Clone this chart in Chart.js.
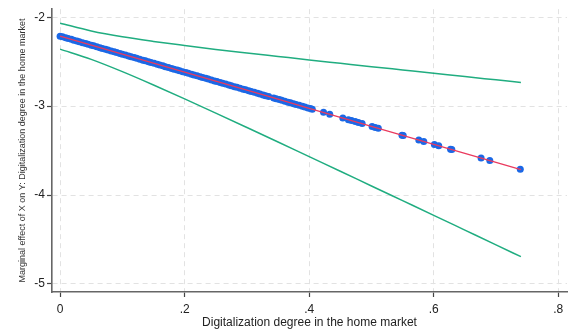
<!DOCTYPE html>
<html>
<head>
<meta charset="utf-8">
<script src="https://cdn.jsdelivr.net/npm/chart.js@4/dist/chart.umd.min.js"></script>
<style>
  html, body { margin: 0; padding: 0; background: #fff; }
  #wrap { width: 572px; height: 332px; position: relative; }
</style>
</head>
<body>
<div id="wrap"><canvas id="chart"></canvas></div>
<script>
// Predicted marginal effect and 95% CI
const gridX  = [0, 0.05, 0.1, 0.15, 0.2, 0.25, 0.3, 0.35, 0.4, 0.45, 0.5, 0.55, 0.6, 0.65, 0.7, 0.74];
const effect = [-2.213, -2.314, -2.416, -2.517, -2.618, -2.720, -2.821, -2.922, -3.024, -3.125, -3.227, -3.328, -3.429, -3.531, -3.632, -3.713];
const upperCI = [-2.067, -2.154, -2.220, -2.272, -2.318, -2.362, -2.402, -2.441, -2.480, -2.518, -2.556, -2.593, -2.630, -2.668, -2.704, -2.733];
const lowerCI = [-2.359, -2.474, -2.612, -2.762, -2.918, -3.078, -3.240, -3.403, -3.568, -3.732, -3.898, -4.063, -4.228, -4.394, -4.560, -4.693];

// Observed points (blue dots on the line)
const obsX = [0, 0.004, 0.009, 0.013, 0.018, 0.022, 0.027, 0.031, 0.036, 0.041, 0.045, 0.05, 0.054, 0.059, 0.064, 0.068,
  0.073, 0.077, 0.082, 0.087, 0.091, 0.096, 0.1, 0.105, 0.11, 0.114, 0.119, 0.123, 0.128, 0.133, 0.137, 0.142, 0.146,
  0.151, 0.156, 0.16, 0.165, 0.169, 0.174, 0.179, 0.183, 0.188, 0.192, 0.197, 0.202, 0.206, 0.211, 0.215, 0.22, 0.225,
  0.229, 0.234, 0.238, 0.243, 0.248, 0.252, 0.257, 0.261, 0.266, 0.271, 0.275, 0.28, 0.284, 0.289, 0.294, 0.298, 0.303,
  0.307, 0.312, 0.317, 0.321, 0.326, 0.33, 0.335, 0.343, 0.347, 0.352, 0.356, 0.361, 0.366, 0.37, 0.375, 0.379, 0.384,
  0.389, 0.393, 0.398, 0.402, 0.405,
  0.423, 0.433, 0.454, 0.463, 0.468, 0.474, 0.479, 0.485, 0.501, 0.506, 0.511, 0.549, 0.551, 0.576, 0.584, 0.601,
  0.608, 0.627, 0.629, 0.676, 0.690, 0.739];
const obsY = [-2.213, -2.221, -2.231, -2.239, -2.249, -2.258, -2.268, -2.276, -2.286, -2.296, -2.304, -2.314, -2.322, -2.333, -2.343, -2.351,
  -2.361, -2.369, -2.379, -2.389, -2.397, -2.408, -2.416, -2.426, -2.436, -2.444, -2.454, -2.462, -2.472, -2.483, -2.491, -2.501, -2.509,
  -2.519, -2.529, -2.537, -2.547, -2.556, -2.566, -2.576, -2.584, -2.594, -2.602, -2.612, -2.622, -2.631, -2.641, -2.649, -2.659, -2.669,
  -2.677, -2.687, -2.695, -2.706, -2.716, -2.724, -2.734, -2.742, -2.752, -2.762, -2.770, -2.781, -2.789, -2.799, -2.809, -2.817, -2.827,
  -2.835, -2.845, -2.856, -2.864, -2.874, -2.882, -2.892, -2.908, -2.916, -2.926, -2.935, -2.945, -2.955, -2.963, -2.973, -2.981, -2.991,
  -3.001, -3.009, -3.020, -3.028, -3.034,
  -3.070, -3.091, -3.133, -3.152, -3.162, -3.174, -3.184, -3.196, -3.229, -3.239, -3.249, -3.326, -3.330, -3.381, -3.397, -3.431,
  -3.445, -3.484, -3.488, -3.583, -3.612, -3.711];

const xTicks = [0, 0.2, 0.4, 0.6, 0.8];
const xTickLabels = ['0', '.2', '.4', '.6', '.8'];
const yTicks = [-5, -4, -3, -2];
const yTickLabels = ['-5', '-4', '-3', '-2'];

const xTitle = 'Digitalization degree in the home market';
const yTitle = 'Marginal effect of X on Y: Digitalization degree in the home market';

const pairs = (xs, ys) => xs.map((x, i) => ({ x: x, y: ys[i] }));

const green = '#20ad80';
const font = 'Liberation Sans, Arial, sans-serif';

new Chart(document.getElementById('chart'), {
    type: 'scatter',
    data: {
        datasets: [
            { type: 'line', data: pairs(gridX, effect), borderColor: '#ea3a5e', borderWidth: 1.3, pointRadius: 0, fill: false, order: 1 },
            { data: pairs(obsX, obsY), backgroundColor: '#1b68e6', borderColor: '#1b68e6', pointRadius: 3.5, pointBorderWidth: 0, order: 2 },
            { type: 'line', data: pairs(gridX, upperCI), borderColor: green, borderWidth: 1.5, pointRadius: 0, fill: false, tension: 0.4, cubicInterpolationMode: 'monotone', order: 3 },
            { type: 'line', data: pairs(gridX, lowerCI), borderColor: green, borderWidth: 1.5, pointRadius: 0, fill: false, tension: 0.4, cubicInterpolationMode: 'monotone', order: 3 }
        ]
    },
    options: {
        responsive: true,
        maintainAspectRatio: false,
        animation: false,
        layout: { padding: { top: 8, right: 5, left: 0, bottom: 0 } },
        plugins: { legend: { display: false }, tooltip: { enabled: false } },
        scales: {
            x: {
                type: 'linear',
                min: -0.013, max: 0.814,
                afterBuildTicks: s => { s.ticks = xTicks.map(v => ({ value: v })); },
                afterFit: s => { s.height = 40; },
                ticks: {
                    callback: (v) => xTickLabels[xTicks.indexOf(v)] ?? '',
                    color: '#222', font: { family: font, size: 12 }, padding: 5, maxRotation: 0
                },
                grid: { color: '#e2e2e2', lineWidth: 1, drawTicks: true, tickLength: 5, tickColor: '#444', tickWidth: 1.2, tickBorderDash: [] },
                border: { display: true, color: '#666', width: 1.6, dash: [5, 4] },
                title: { display: true, text: xTitle, color: '#222', font: { family: font, size: 12 }, padding: { top: 0, bottom: 2 } }
            },
            y: {
                type: 'linear',
                min: -5.09, max: -1.91,
                afterBuildTicks: s => { s.ticks = yTicks.map(v => ({ value: v })); },
                afterFit: s => { s.width = 52; },
                ticks: {
                    callback: (v) => yTickLabels[yTicks.indexOf(v)] ?? '',
                    color: '#222', font: { family: font, size: 12 }, padding: 2
                },
                grid: { color: '#e2e2e2', lineWidth: 1, drawTicks: true, tickLength: 5, tickColor: '#444', tickWidth: 1.2, tickBorderDash: [] },
                border: { display: true, color: '#666', width: 1.6, dash: [5, 4] },
                title: { display: true, text: yTitle, color: '#333', font: { family: font, size: 9 }, padding: { top: 17, bottom: 0 } }
            }
        }
    }
});
</script>
</body>
</html>
